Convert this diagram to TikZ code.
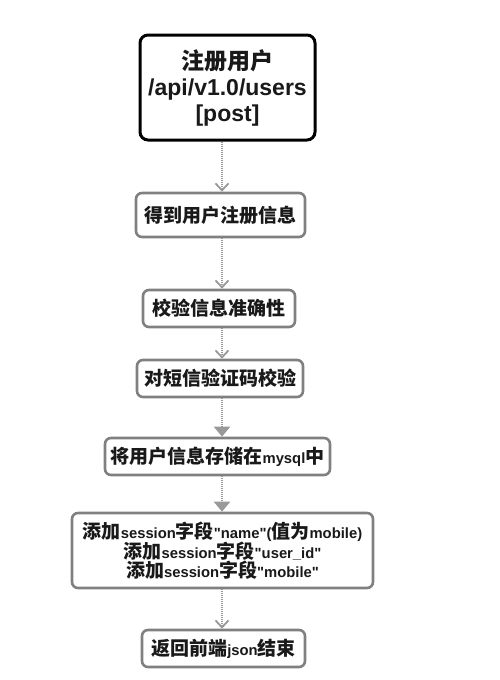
\documentclass[tikz,border=0pt]{standalone}
\usepackage{fontspec}
\setmainfont{Liberation Sans}
\newfontfamily\cjk{Noto Sans CJK SC}
\newfontfamily\latinf{Liberation Sans}
\usetikzlibrary{arrows.meta}
\newcommand{\lt}[1]{{\fontsize{14.8}{15}\selectfont\latinf\bfseries #1}}
\begin{document}
\begin{tikzpicture}[x=1pt,y=-1pt,
  stepbox/.style={draw=black!50, line width=2.6pt, rounded corners=6pt, fill=white,
    inner sep=0pt, align=center, text=black!90,
    font=\cjk\bfseries\fontsize{19}{19}\selectfont},
  topbox/.style={draw=black, line width=3pt, rounded corners=8pt, fill=white,
    inner sep=0pt, align=center, text=black!90,
    font=\bfseries\fontsize{23}{26}\selectfont},
  flow/.style={draw=black!40, line width=2.2pt, dash pattern=on 1pt off 1pt},
  openhead/.style={-{Straight Barb[length=7pt,width=13pt,line width=1.8pt,color=black!40]}},
  fullhead/.style={-{Triangle[length=10pt,width=16pt,color=black!40,fill=black!40]}}
]
\useasboundingbox (0,0) rectangle (499,680);
\coordinate (ax) at (222,0);
\node[topbox, minimum width=175pt, minimum height=105pt] (b1) at (227.5,87.5)
  {{\cjk 注册用户}\\/api/v1.0/users\\{[}post{]}};
\node[stepbox, minimum width=169pt, minimum height=44pt] (b2) at (220.5,215) {得到用户注册信息};
\node[stepbox, minimum width=152pt, minimum height=37pt] (b3) at (219,308.5) {校验信息准确性};
\node[stepbox, minimum width=166pt, minimum height=37pt] (b4) at (220,378.5) {对短信验证码校验};
\node[stepbox, minimum width=225pt, minimum height=37pt] (b5) at (217.5,456.5) {将用户信息存储在\lt{mysql}中};
\node[stepbox, minimum width=301pt, minimum height=75pt, font=\cjk\bfseries\fontsize{19}{18.5}\selectfont] (b6) at (222.5,550.5)
  {添加\lt{session}字段\lt{"name"(}值为\lt{mobile)}\\
   添加\lt{session}字段\lt{"user\_id"}\\
   添加\lt{session}字段\lt{"mobile"}};
\node[stepbox, minimum width=163pt, minimum height=37pt] (b7) at (223.5,648.5) {返回前端\lt{json}结束};
\draw[flow, openhead] (b1.south -| ax) -- (b2.north -| ax);
\draw[flow, openhead] (b2.south -| ax) -- (b3.north -| ax);
\draw[flow, openhead] (b3.south -| ax) -- (b4.north -| ax);
\draw[flow, fullhead] (b4.south -| ax) -- (b5.north -| ax);
\draw[flow, fullhead] (b5.south -| ax) -- (b6.north -| ax);
\draw[flow, openhead] (b6.south -| ax) -- (b7.north -| ax);
\end{tikzpicture}
\end{document}
